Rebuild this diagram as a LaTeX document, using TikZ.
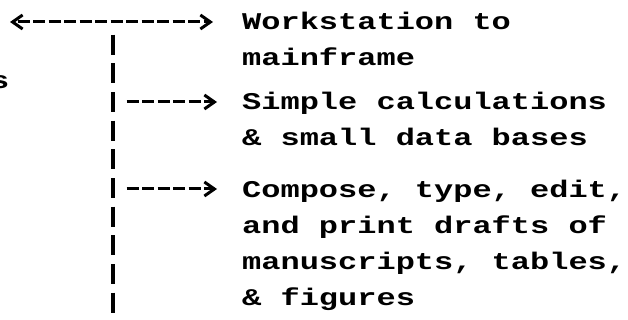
\documentclass[tikz,border=0pt]{standalone}
\usepackage{fontspec}
\newfontfamily\typefont[FakeStretch=1.333]{Liberation Mono}
\usetikzlibrary{arrows.meta}

\begin{document}
\begin{tikzpicture}[x=1pt,y=-1pt,
  lbl/.style={inner sep=0pt, anchor=base west,
    font=\typefont\bfseries\fontsize{24}{36}\selectfont},
  bar/.style={line width=3.5pt, dash pattern=on 20pt off 8.67pt},
  chev/.tip={Straight Barb[length=10pt,width=14pt,line width=3pt]},
  feed/.style={line width=3pt, dash pattern=on 12pt off 3.5pt, dash phase=12pt, -chev},
]
\useasboundingbox (0,0) rectangle (628,320);
\fill[white] (0,0) rectangle (628,320);
\clip (0,0) rectangle (628,320);

% labels, one typed block per branch
\node[lbl] (wm) at (242,29.5) {\vtop{\hbox{Workstation to}\hbox{mainframe}}};
\node[lbl] (sc) at (242,109.5) {\vtop{\hbox{Simple calculations}\hbox{\& small data bases}}};
\node[lbl] (cp) at (242,197) {\vtop{\hbox{Compose, type, edit,}\hbox{and print drafts of}\hbox{manuscripts, tables,}\hbox{\& figures}}};
\node[lbl] (s) at (-10,89) {s};

% trunk of typed bars
\coordinate (bartop) at (113,34.7);
\coordinate (barbot) at (113,322);
\draw[bar] (bartop) -- (barbot);

% branch points on the trunk
\coordinate (b1) at (113,102);
\coordinate (b2) at (113,189);

% two-way link at the top
\coordinate (lft) at (10,22);
\draw[feed, chev-chev, shorten >=29pt] (lft) -- (lft -| wm.west);

% branches to the tasks
\draw[feed, shorten <=10pt, shorten >=25pt] (b1) -- (b1 -| sc.west);
\draw[feed, shorten <=10pt, shorten >=25pt] (b2) -- (b2 -| cp.west);
\end{tikzpicture}
\end{document}
